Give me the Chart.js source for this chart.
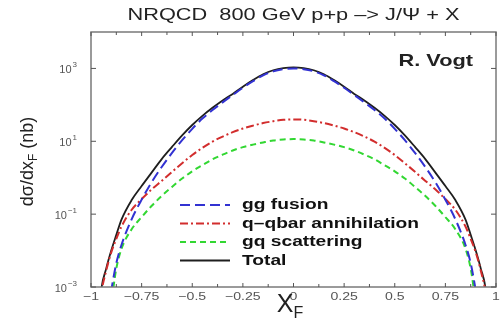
<!DOCTYPE html>
<html>
<head>
<meta charset="utf-8">
<script src="https://cdn.jsdelivr.net/npm/chart.js@4.4.0/dist/chart.umd.min.js"></script>
<style>
  html, body { margin: 0; padding: 0; background: #fff; }
</style>
</head>
<body>
<canvas id="ShowChart" width="501" height="321"></canvas>
<script>
// x_F grid and dsigma/dx_F (nb) for each channel
var XF = [-0.975, -0.95, -0.925, -0.9, -0.875, -0.85, -0.8, -0.75, -0.7, -0.65, -0.6, -0.55, -0.5, -0.45, -0.4, -0.35, -0.3, -0.25, -0.2, -0.15, -0.1, -0.05,
  0,
  0.05, 0.1, 0.15, 0.2, 0.25, 0.3, 0.35, 0.4, 0.45, 0.5, 0.55, 0.6, 0.65, 0.7, 0.75, 0.8, 0.85, 0.875, 0.9, 0.925, 0.95, 0.975]
var GG_Fusion = [0.000001, 0.00001, 0.0001, 0.0008, 0.0045, 0.014, 0.071, 0.25, 0.76, 2.0, 4.8, 10.7, 22, 42, 72, 117, 186, 295, 447, 646, 832, 955,
  1000,
  955, 832, 646, 447, 295, 186, 117, 72, 42, 22, 10.7, 4.8, 2.0, 0.76, 0.25, 0.071, 0.014, 0.0045, 0.0008, 0.0001, 0.00001, 0.000001]
var QQbar = [0.00002, 0.0006, 0.0028, 0.0089, 0.021, 0.045, 0.13, 0.26, 0.48, 0.83, 1.45, 2.5, 4.2, 6.6, 9.8, 13.5, 17.8, 22.4, 26.9, 31.6, 35.5, 38.9,
  39.8,
  38.9, 35.5, 31.6, 26.9, 22.4, 17.8, 13.5, 9.8, 6.6, 4.2, 2.5, 1.45, 0.83, 0.48, 0.26, 0.13, 0.045, 0.021, 0.0089, 0.0028, 0.0006, 0.00002]
var GQ_Scatter = [0.000001, 0.00001, 0.0001, 0.0004, 0.0032, 0.011, 0.038, 0.083, 0.17, 0.32, 0.56, 0.95, 1.5, 2.2, 3.2, 4.3, 5.6, 6.9, 8.1, 9.3, 10.5, 11.2,
  11.5,
  11.2, 10.5, 9.3, 8.1, 6.9, 5.6, 4.3, 3.2, 2.2, 1.5, 0.95, 0.56, 0.32, 0.17, 0.083, 0.038, 0.011, 0.0032, 0.0004, 0.0001, 0.00001, 0.000001]
var Total_Sum = [0.00002, 0.0008, 0.0032, 0.01, 0.027, 0.07, 0.24, 0.59, 1.4, 3.3, 7.0, 14.5, 28, 50, 83, 132, 200, 316, 479, 692, 891, 1023,
  1072,
  1023, 891, 692, 479, 316, 200, 132, 83, 50, 28, 14.5, 7.0, 3.3, 1.4, 0.59, 0.24, 0.07, 0.027, 0.01, 0.0032, 0.0008, 0.00002]

var Series_Labels = ["gg fusion", "q\u2013qbar annihilation", "gq scattering", "Total"]
var X_Ticks = [-1, -0.75, -0.5, -0.25, 0, 0.25, 0.5, 0.75, 1]
var X_Tick_Labels = ["\u22121", "\u22120.75", "\u22120.5", "\u22120.25", "0", "0.25", "0.5", "0.75", "1"]
var Y_Ticks = [0.001, 0.1, 10, 1000]
var Y_Tick_Exps = ["\u22123", "\u22121", "1", "3"]

var STRETCH = 1.28

function toPoints(arr){
  var pts = []
  for (var i = 0; i < XF.length; i++){ pts.push({x: XF[i], y: arr[i]}) }
  return pts
}

function wideText(ctx, text, x, y, font, align, sx){
  ctx.save()
  ctx.font = font
  ctx.translate(x, y)
  ctx.scale(sx, 1)
  ctx.textAlign = align
  ctx.fillText(text, 0, 0)
  ctx.restore()
}

var Decorations = {
  id: "decorations",
  afterDraw: function(chart){
    var ctx = chart.ctx, area = chart.chartArea
    var xs = chart.scales.x, ys = chart.scales.y
    ctx.save()
    // frame
    ctx.strokeStyle = "#7a7a7a"
    ctx.lineWidth = 1.5
    ctx.strokeRect(area.left, area.top, area.right - area.left, area.bottom - area.top)
    // inward ticks
    ctx.lineWidth = 1
    ctx.strokeStyle = "#555"
    ctx.beginPath()
    for (var i = 0; i < X_Ticks.length; i++){
      var px = xs.getPixelForValue(X_Ticks[i])
      ctx.moveTo(px, area.bottom); ctx.lineTo(px, area.bottom - 4)
      ctx.moveTo(px, area.top); ctx.lineTo(px, area.top + 4)
      if (i < X_Ticks.length - 1){
        var pm = xs.getPixelForValue((X_Ticks[i] + X_Ticks[i + 1]) / 2)
        ctx.moveTo(pm, area.bottom); ctx.lineTo(pm, area.bottom - 3)
        ctx.moveTo(pm, area.top); ctx.lineTo(pm, area.top + 3)
      }
    }
    for (var j = 0; j < Y_Ticks.length; j++){
      var py = ys.getPixelForValue(Y_Ticks[j])
      ctx.moveTo(area.left, py); ctx.lineTo(area.left + 5, py)
      ctx.moveTo(area.right, py); ctx.lineTo(area.right - 5, py)
    }
    ctx.stroke()

    // tick labels
    ctx.fillStyle = "#555"
    ctx.textBaseline = "middle"
    for (var i = 0; i < X_Ticks.length; i++){
      wideText(ctx, X_Tick_Labels[i], xs.getPixelForValue(X_Ticks[i]), area.bottom + 10, "11px 'Liberation Sans', Arial, sans-serif", "center", STRETCH)
    }
    for (var j = 0; j < Y_Ticks.length; j++){
      var py = ys.getPixelForValue(Y_Ticks[j])
      ctx.font = "8px 'Liberation Sans', Arial, sans-serif"
      ctx.textAlign = "right"
      ctx.textBaseline = "alphabetic"
      ctx.fillText(Y_Tick_Exps[j], area.left - 14, py - 1)
      var ew = ctx.measureText(Y_Tick_Exps[j]).width
      ctx.font = "11px 'Liberation Sans', Arial, sans-serif"
      ctx.fillText("10", area.left - 15 - ew, py + 5)
    }

    // title
    ctx.fillStyle = "#222"
    ctx.textBaseline = "alphabetic"
    wideText(ctx, "NRQCD  800 GeV p+p \u2013> J/\u03A8 + X", (area.left + area.right) / 2, 20, "17px 'Liberation Sans', Arial, sans-serif", "center", STRETCH)
    // author tag
    wideText(ctx, "R. Vogt", area.right - 23, 66, "bold 17px 'Liberation Sans', Arial, sans-serif", "right", STRETCH)

    // x axis title
    var cx = (area.left + area.right) / 2
    ctx.font = "25px 'Liberation Sans', Arial, sans-serif"
    ctx.textAlign = "right"
    ctx.fillText("X", cx, 312)
    ctx.font = "16px 'Liberation Sans', Arial, sans-serif"
    ctx.textAlign = "left"
    ctx.fillText("F", cx, 318)

    // y axis title
    ctx.save()
    ctx.translate(33, (area.top + area.bottom) / 2 + 2)
    ctx.rotate(-Math.PI / 2)
    ctx.font = "18px 'Liberation Sans', Arial, sans-serif"
    var p1 = "d\u03C3/dx", p3 = " (nb)"
    ctx.font = "18px 'Liberation Sans', Arial, sans-serif"
    var w1 = ctx.measureText(p1).width, w3 = ctx.measureText(p3).width
    ctx.font = "12px 'Liberation Sans', Arial, sans-serif"
    var w2 = ctx.measureText("F").width
    var x0 = -(w1 + w2 + w3) / 2
    ctx.textAlign = "left"
    ctx.font = "18px 'Liberation Sans', Arial, sans-serif"
    ctx.fillText(p1, x0, 0)
    ctx.font = "12px 'Liberation Sans', Arial, sans-serif"
    ctx.fillText("F", x0 + w1, 4)
    ctx.font = "18px 'Liberation Sans', Arial, sans-serif"
    ctx.fillText(p3, x0 + w1 + w2, 0)
    ctx.restore()

    // legend
    var sets = chart.data.datasets
    for (var k = 0; k < sets.length; k++){
      var ly = 205 + k * 18.5
      ctx.save()
      ctx.strokeStyle = sets[k].borderColor
      ctx.lineWidth = sets[k].borderWidth
      ctx.setLineDash(sets[k].borderDash || [])
      ctx.beginPath()
      ctx.moveTo(180, ly); ctx.lineTo(230, ly)
      ctx.stroke()
      ctx.restore()
      ctx.fillStyle = "#111"
      ctx.textBaseline = "middle"
      wideText(ctx, sets[k].label, 242, ly, "bold 15px 'Liberation Sans', Arial, sans-serif", "left", STRETCH)
    }
    ctx.restore()
  }
}

var Show_Chart = {
  type: "line",
  data: {
    datasets: [
      { label: Series_Labels[0], data: toPoints(GG_Fusion), borderColor: "rgb(50, 50, 210)", borderWidth: 2, borderDash: [10, 5] },
      { label: Series_Labels[1], data: toPoints(QQbar), borderColor: "rgb(210, 45, 45)", borderWidth: 2, borderDash: [8, 3, 2, 3] },
      { label: Series_Labels[2], data: toPoints(GQ_Scatter), borderColor: "rgb(50, 215, 50)", borderWidth: 2, borderDash: [6, 4] },
      { label: Series_Labels[3], data: toPoints(Total_Sum), borderColor: "rgb(30, 30, 30)", borderWidth: 1.8 }
    ]
  },
  options: {
    responsive: false,
    animation: false,
    devicePixelRatio: 1,
    layout: { padding: { left: 91, right: 5, top: 32, bottom: 34 } },
    elements: { point: { radius: 0 }, line: { cubicInterpolationMode: "monotone" } },
    plugins: { legend: { display: false }, title: { display: false }, tooltip: { enabled: false } },
    scales: {
      x: { type: "linear", min: -1, max: 1, display: false },
      y: { type: "logarithmic", min: 0.001, max: 10000, display: false }
    }
  },
  plugins: [Decorations]
}

var ctx = document.getElementById("ShowChart").getContext("2d")
var ChartObject = new Chart(ctx, Show_Chart)
</script>
</body>
</html>
